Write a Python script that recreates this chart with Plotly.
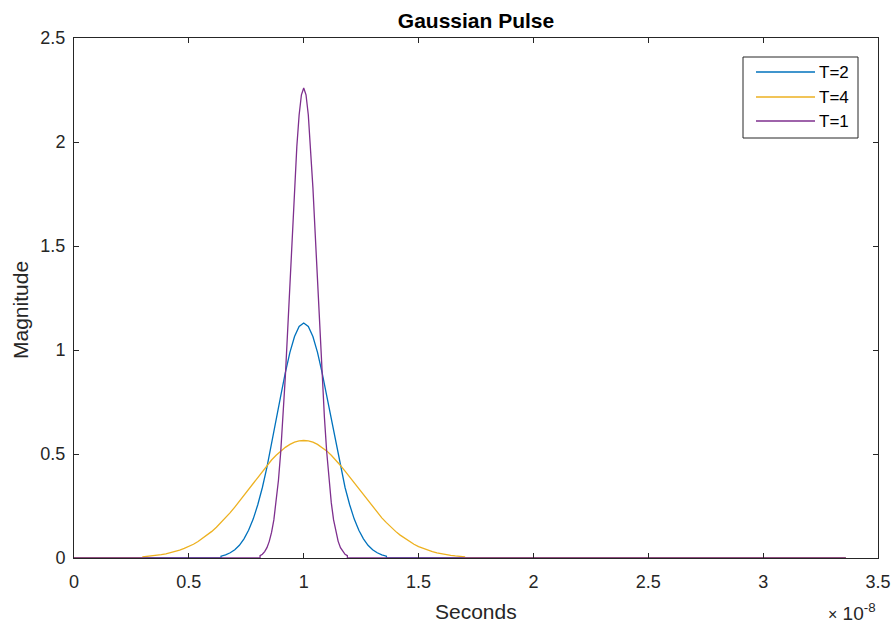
import plotly.graph_objects as go

# time values are in units of 1e-8 s (axis shows x10^-8)
t_T2 = [0.0, 0.64,
        0.64, 0.66, 0.68, 0.70, 0.72, 0.74, 0.76, 0.78, 0.80, 0.82, 0.84, 0.86, 0.88,
        0.90, 0.92, 0.94, 0.96, 0.98, 1.00, 1.02, 1.04, 1.06, 1.08, 1.10, 1.12, 1.14,
        1.16, 1.18, 1.20, 1.22, 1.24, 1.26, 1.28, 1.30, 1.32, 1.34, 1.36,
        1.36, 3.36]
v_T2 = [0.0, 0.0,
        0.009, 0.015, 0.025, 0.040, 0.061, 0.092, 0.133, 0.187, 0.256, 0.339, 0.437,
        0.545, 0.662, 0.779, 0.891, 0.989, 1.065, 1.113, 1.130, 1.113, 1.065, 0.989,
        0.891, 0.779, 0.662, 0.545, 0.437, 0.339, 0.256, 0.187, 0.133, 0.092, 0.061,
        0.040, 0.025, 0.015, 0.009,
        0.0, 0.0]

t_T4 = [0.0, 0.30,
        0.30, 0.32, 0.34, 0.36, 0.38, 0.40, 0.42, 0.44, 0.46, 0.48, 0.50, 0.52, 0.54,
        0.56, 0.58, 0.60, 0.62, 0.64, 0.66, 0.68, 0.70, 0.72, 0.74, 0.76, 0.78, 0.80,
        0.82, 0.84, 0.86, 0.88, 0.90, 0.92, 0.94, 0.96, 0.98, 1.00, 1.02, 1.04, 1.06,
        1.08, 1.10, 1.12, 1.14, 1.16, 1.18, 1.20, 1.22, 1.24, 1.26, 1.28, 1.30, 1.32,
        1.34, 1.36, 1.38, 1.40, 1.42, 1.44, 1.46, 1.48, 1.50, 1.52, 1.54, 1.56, 1.58,
        1.60, 1.62, 1.64, 1.66, 1.68, 1.70,
        1.70, 3.36]
v_T4 = [0.0, 0.0,
        0.006, 0.008, 0.010, 0.013, 0.016, 0.020, 0.025, 0.031, 0.038, 0.046, 0.055,
        0.066, 0.079, 0.094, 0.110, 0.128, 0.148, 0.170, 0.193, 0.218, 0.245, 0.273,
        0.302, 0.331, 0.360, 0.390, 0.418, 0.445, 0.471, 0.494, 0.515, 0.532, 0.546,
        0.557, 0.563, 0.565, 0.563, 0.557, 0.546, 0.532, 0.515, 0.494, 0.471, 0.445,
        0.418, 0.390, 0.360, 0.331, 0.302, 0.273, 0.245, 0.218, 0.193, 0.170, 0.148,
        0.128, 0.110, 0.094, 0.079, 0.066, 0.055, 0.046, 0.038, 0.031, 0.025, 0.020,
        0.016, 0.013, 0.010, 0.008, 0.006,
        0.0, 0.0]

t_T1 = [0.0, 0.81,
        0.81, 0.82, 0.83, 0.84, 0.85, 0.86, 0.87, 0.88, 0.89, 0.90, 0.91, 0.92, 0.93,
        0.94, 0.95, 0.96, 0.97, 0.98, 0.99, 1.00, 1.01, 1.02, 1.03, 1.04, 1.05, 1.06,
        1.07, 1.08, 1.09, 1.10, 1.11, 1.12, 1.13, 1.14, 1.15, 1.16, 1.17, 1.18, 1.19,
        1.19, 3.36]
v_T1 = [0.0, 0.0,
        0.011, 0.018, 0.031, 0.050, 0.080, 0.123, 0.183, 0.266, 0.374, 0.511, 0.678,
        0.873, 1.091, 1.323, 1.559, 1.782, 1.977, 2.130, 2.227, 2.260, 2.227, 2.130,
        1.977, 1.782, 1.559, 1.323, 1.091, 0.873, 0.678, 0.511, 0.374, 0.266, 0.183,
        0.123, 0.080, 0.050, 0.031, 0.018, 0.011,
        0.0, 0.0]

series_names = ["T=2", "T=4", "T=1"]
series_t = [t_T2, t_T4, t_T1]
series_v = [v_T2, v_T4, v_T1]
series_colors = ["#0072BD", "#EDB120", "#7E2F8E"]

x_ticks = [0, 0.5, 1, 1.5, 2, 2.5, 3, 3.5]
y_ticks = [0, 0.5, 1, 1.5, 2, 2.5]

FONT = "Liberation Sans"
TXT = "#262626"

fig = go.Figure()
for name, t, v, c in zip(series_names, series_t, series_v, series_colors):
    fig.add_trace(go.Scatter(x=t, y=v, mode="lines", name=name,
                             line=dict(color=c, width=1.3), showlegend=False))

axis_common = dict(showgrid=False, zeroline=False, showline=True, linecolor=TXT,
                   linewidth=1, mirror="ticks", ticks="inside", ticklen=5,
                   tickcolor=TXT, automargin=False,
                   tickfont=dict(family=FONT, size=18, color=TXT))

L, R, T, B = 74, 16, 38, 68
W, H = 894, 626
pw, ph = W - L - R, H - T - B

fig.update_layout(
    width=W, height=H,
    margin=dict(l=L, r=R, t=T, b=B),
    paper_bgcolor="white", plot_bgcolor="white",
    title=dict(text="<b>Gaussian Pulse</b>", x=(L + pw / 2) / W, xanchor="center",
               y=1 - 21 / H, yanchor="middle",
               font=dict(family=FONT, size=21, color="black")),
    xaxis=dict(range=[0, 3.5], tickvals=x_ticks, ticktext=[str(v) for v in x_ticks],
               ticklabelstandoff=7, **axis_common),
    yaxis=dict(range=[0, 2.5], tickvals=y_ticks, ticktext=[str(v) for v in y_ticks],
               ticklabelstandoff=4, **axis_common),
    showlegend=False,
)

# axis labels
fig.add_annotation(xref="paper", yref="paper", x=0.5, y=-(611 - (T + ph)) / ph,
                   xanchor="center", yanchor="middle", showarrow=False,
                   text="Seconds", font=dict(family=FONT, size=21, color=TXT))
fig.add_annotation(xref="paper", yref="paper", x=-(L - 21) / pw, y=(T + ph - 310) / ph,
                   xanchor="center", yanchor="middle", showarrow=False, textangle=-90,
                   text="Magnitude", font=dict(family=FONT, size=21, color=TXT))

# exponent label
fig.add_annotation(xref="paper", yref="paper", x=1.0, y=-(612 - (T + ph)) / ph,
                   xanchor="right", yanchor="middle", showarrow=False,
                   text="<span style='font-size:16px'>×</span> 10<sup>-8</sup>",
                   font=dict(family=FONT, size=19, color=TXT))

# legend box
def px_x(p):
    return (p - L) / pw

def px_y(p):
    return (T + ph - p) / ph

fig.add_shape(type="rect", xref="paper", yref="paper",
              x0=px_x(743), x1=px_x(858), y0=px_y(138), y1=px_y(57),
              line=dict(color=TXT, width=1), fillcolor="white", layer="above")
row_y = [72, 97, 121]
for name, c, ry in zip(series_names, series_colors, row_y):
    fig.add_shape(type="line", xref="paper", yref="paper",
                  x0=px_x(756), x1=px_x(815), y0=px_y(ry), y1=px_y(ry),
                  line=dict(color=c, width=1.3), layer="above")
    fig.add_annotation(xref="paper", yref="paper", x=px_x(817), y=px_y(ry),
                       xanchor="left", yanchor="middle", showarrow=False,
                       text=name, font=dict(family=FONT, size=17, color="black"))

fig.write_html("out.html")
